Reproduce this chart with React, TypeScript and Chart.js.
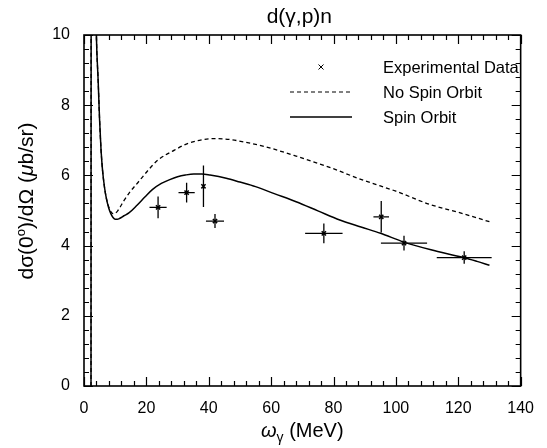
import React, { useEffect, useRef } from 'react';
import { Chart, registerables } from 'chart.js';

Chart.register(...registerables);

// ---- data ----
const TITLE = 'd(γ,p)n';
const LEGEND_LABELS = ['Experimental Data', 'No Spin Orbit', 'Spin Orbit'];

const X_MIN = 0;
const X_MAX = 140;
const X_MAJOR = 20;
const X_MINOR = 4;
const Y_MIN = 0;
const Y_MAX = 10;
const Y_MAJOR = 2;
const Y_MINOR = 0.4;

const spinOrbitX = [2.25, 2.3, 3.3, 3.97, 4.53, 5.0, 5.47, 5.94, 6.56, 7.2, 7.9, 8.6, 9.3, 10.0, 10.7, 11.5, 12.8, 14.4, 17, 19.6, 22, 24.8, 27.5, 30, 32.5, 35.2, 37.8, 40.4, 45.6, 50, 55, 61, 68, 75, 82, 88.8, 95.1, 102.6, 111.25, 121.7, 126, 130];
const spinOrbitY = [0, 14, 14, 10, 8.72, 7.58, 6.72, 6.15, 5.67, 5.33, 5.08, 4.91, 4.8, 4.75, 4.75, 4.78, 4.85, 4.93, 5.15, 5.39, 5.6, 5.77, 5.88, 5.96, 6.01, 6.04, 6.04, 6.01, 5.92, 5.81, 5.68, 5.48, 5.25, 4.99, 4.73, 4.53, 4.35, 4.1, 3.88, 3.66, 3.55, 3.44];

const noSpinX = [2.25, 2.3, 3.3, 3.97, 4.53, 5.0, 5.47, 5.94, 6.56, 7.2, 7.9, 8.6, 9.3, 10.0, 10.8, 11.6, 12.8, 14.4, 17.5, 20.6, 23.75, 29, 33, 37, 42, 47, 52, 58, 68, 79, 89, 95, 100, 111, 120, 130];
const noSpinY = [0, 14, 14, 10, 8.72, 7.58, 6.72, 6.15, 5.67, 5.34, 5.11, 4.97, 4.91, 4.92, 4.99, 5.1, 5.28, 5.49, 5.82, 6.15, 6.44, 6.72, 6.9, 7.0, 7.05, 7.02, 6.94, 6.82, 6.55, 6.22, 5.88, 5.7, 5.55, 5.17, 4.95, 4.68];

const expX = [23.75, 32.9, 38.3, 42.0, 76.9, 95.3, 102.6, 121.9];
const expY = [5.09, 5.51, 5.69, 4.70, 4.35, 4.82, 4.07, 3.66];
const expXErr = [2.75, 2.6, 0, 2.9, 6.0, 2.5, 7.4, 8.8];
const expYErr = [0.31, 0.28, 0.59, 0.2, 0.28, 0.45, 0.21, 0.18];

const FONT = '"Liberation Sans", Arial, Helvetica, sans-serif';

const decorPlugin = {
  id: 'decor',
  afterDatasetsDraw(chart: any) {
    const { ctx, chartArea: a, scales } = chart;
    const xs = scales.x;
    const ys = scales.y;
    ctx.save();
    ctx.strokeStyle = '#000';
    ctx.fillStyle = '#000';

    // error bars
    ctx.lineWidth = 1.3;
    ctx.beginPath();
    for (let i = 0; i < expX.length; i++) {
      const px = xs.getPixelForValue(expX[i]);
      const py = ys.getPixelForValue(expY[i]);
      if (expXErr[i] > 0) {
        ctx.moveTo(xs.getPixelForValue(expX[i] - expXErr[i]), py);
        ctx.lineTo(xs.getPixelForValue(expX[i] + expXErr[i]), py);
      }
      if (expYErr[i] > 0) {
        ctx.moveTo(px, ys.getPixelForValue(expY[i] - expYErr[i]));
        ctx.lineTo(px, ys.getPixelForValue(expY[i] + expYErr[i]));
      }
    }
    ctx.stroke();

    // frame
    ctx.lineWidth = 1.6;
    ctx.strokeRect(a.left, a.top, a.right - a.left, a.bottom - a.top);

    // inward ticks
    ctx.lineWidth = 1.2;
    ctx.beginPath();
    const nx = Math.round((X_MAX - X_MIN) / X_MINOR);
    for (let k = 0; k <= nx; k++) {
      const v = X_MIN + k * X_MINOR;
      const major = Math.abs(v / X_MAJOR - Math.round(v / X_MAJOR)) < 1e-6;
      const len = major ? 9 : 5;
      const px = Math.round(xs.getPixelForValue(v)) + 0.5;
      ctx.moveTo(px, a.bottom);
      ctx.lineTo(px, a.bottom - len);
      ctx.moveTo(px, a.top);
      ctx.lineTo(px, a.top + len);
    }
    const ny = Math.round((Y_MAX - Y_MIN) / Y_MINOR);
    for (let k = 0; k <= ny; k++) {
      const v = Y_MIN + k * Y_MINOR;
      const major = Math.abs(v / Y_MAJOR - Math.round(v / Y_MAJOR)) < 1e-6;
      const len = major ? 9 : 5;
      const py = Math.round(ys.getPixelForValue(v)) + 0.5;
      ctx.moveTo(a.left, py);
      ctx.lineTo(a.left + len, py);
      ctx.moveTo(a.right, py);
      ctx.lineTo(a.right - len, py);
    }
    ctx.stroke();

    const cx = (a.left + a.right) / 2;

    // title
    ctx.textAlign = 'center';
    ctx.textBaseline = 'middle';
    ctx.font = `21px ${FONT}`;
    ctx.fillText(TITLE, cx - 3, 17);

    // legend
    const rows = [67, 92, 117];
    const symL = 290;
    const symR = 352;
    const textX = 383;
    ctx.font = `16.5px ${FONT}`;
    ctx.textAlign = 'left';
    ctx.textBaseline = 'middle';
    // row 0: cross marker
    ctx.lineWidth = 1;
    ctx.beginPath();
    const mx = 321;
    const my = rows[0];
    ctx.moveTo(mx - 2.5, my - 2.5);
    ctx.lineTo(mx + 2.5, my + 2.5);
    ctx.moveTo(mx + 2.5, my - 2.5);
    ctx.lineTo(mx - 2.5, my + 2.5);
    ctx.stroke();
    // row 1: dashed
    ctx.lineWidth = 1.2;
    ctx.setLineDash([4, 3]);
    ctx.beginPath();
    ctx.moveTo(symL, rows[1]);
    ctx.lineTo(symR, rows[1]);
    ctx.stroke();
    ctx.setLineDash([]);
    // row 2: solid
    ctx.lineWidth = 1.3;
    ctx.beginPath();
    ctx.moveTo(symL, rows[2]);
    ctx.lineTo(symR, rows[2]);
    ctx.stroke();
    for (let i = 0; i < LEGEND_LABELS.length; i++) {
      ctx.fillText(LEGEND_LABELS[i], textX, rows[i] + 1);
    }

    // x-axis title: ω_γ (MeV)
    {
      const big = `20px ${FONT}`;
      const small = `14px ${FONT}`;
      const omega = 'ω';
      const gamma = 'γ';
      const rest = ' (MeV)';
      ctx.font = `italic ${big}`;
      const wO = ctx.measureText(omega).width;
      ctx.font = small;
      const wG = ctx.measureText(gamma).width;
      ctx.font = big;
      const wR = ctx.measureText(rest).width;
      const total = wO + wG + wR;
      let x0 = cx - total / 2;
      const base = 437;
      ctx.textAlign = 'left';
      ctx.textBaseline = 'alphabetic';
      ctx.font = `italic ${big}`;
      ctx.fillText(omega, x0, base);
      x0 += wO;
      ctx.font = small;
      ctx.fillText(gamma, x0, base + 5);
      x0 += wG;
      ctx.font = big;
      ctx.fillText(rest, x0, base);
    }

    // y-axis title: dσ(0°)/dΩ (μb/sr)
    {
      const big = `21px ${FONT}`;
      const small = `13px ${FONT}`;
      const parts: Array<[string, string, number]> = [
        ['dσ(0', big, 0],
        ['o', small, -8],
        [')/dΩ (', big, 0],
        ['μ', `italic ${big}`, 0],
        ['b/sr)', big, 0],
      ];
      let total = 0;
      const widths: number[] = [];
      for (const [t, f] of parts) {
        ctx.font = f;
        const w = ctx.measureText(t).width;
        widths.push(w);
        total += w;
      }
      ctx.translate(33, 201);
      ctx.rotate(-Math.PI / 2);
      ctx.textAlign = 'left';
      ctx.textBaseline = 'alphabetic';
      let x0 = -total / 2;
      parts.forEach(([t, f, dy], i) => {
        ctx.font = f;
        ctx.fillText(t, x0, dy);
        x0 += widths[i];
      });
    }
    ctx.restore();
  },
};

export default function App() {
  const ref = useRef<HTMLCanvasElement | null>(null);
  useEffect(() => {
    if (!ref.current) return;
    const chart = new Chart(ref.current, {
      type: 'scatter',
      data: {
        datasets: [
          {
            label: LEGEND_LABELS[2],
            data: spinOrbitX.map((x, i) => ({ x, y: spinOrbitY[i] })),
            showLine: true,
            borderColor: '#000',
            backgroundColor: '#000',
            borderWidth: 1.5,
            pointRadius: 0,
            cubicInterpolationMode: 'monotone',
            fill: false,
          },
          {
            label: LEGEND_LABELS[1],
            data: noSpinX.map((x, i) => ({ x, y: noSpinY[i] })),
            showLine: true,
            borderColor: '#000',
            backgroundColor: '#000',
            borderWidth: 1.3,
            borderDash: [4, 3],
            pointRadius: 0,
            cubicInterpolationMode: 'monotone',
            fill: false,
          },
          {
            label: LEGEND_LABELS[0],
            data: expX.map((x, i) => ({ x, y: expY[i] })),
            showLine: false,
            pointStyle: 'crossRot',
            pointRadius: 3,
            borderColor: '#000',
            backgroundColor: '#000',
            borderWidth: 1.5,
          },
        ],
      } as any,
      options: {
        animation: false,
        responsive: false,
        maintainAspectRatio: false,
        events: [],
        layout: { padding: { top: 35, right: 15, left: 0, bottom: 0 } },
        plugins: {
          legend: { display: false },
          tooltip: { enabled: false },
          title: { display: false },
        },
        scales: {
          x: {
            type: 'linear',
            min: X_MIN,
            max: X_MAX,
            ticks: {
              stepSize: X_MAJOR,
              color: '#000',
              font: { family: FONT, size: 16 },
              padding: 13,
              maxRotation: 0,
            },
            grid: { display: false, drawTicks: false },
            border: { display: false },
            afterFit: (s: any) => {
              s.height = 62;
            },
          },
          y: {
            type: 'linear',
            min: Y_MIN,
            max: Y_MAX,
            ticks: {
              stepSize: Y_MAJOR,
              color: '#000',
              font: { family: FONT, size: 16 },
              padding: 14,
            },
            grid: { display: false, drawTicks: false },
            border: { display: false },
            afterFit: (s: any) => {
              s.width = 84;
            },
          },
        },
      } as any,
      plugins: [decorPlugin],
    });
    return () => chart.destroy();
  }, []);
  return (
    <div style={{ position: 'fixed', left: 0, top: 0, width: 547, height: 448, background: '#fff' }}>
      <canvas ref={ref} width={547} height={448} style={{ display: 'block' }} />
    </div>
  );
}
